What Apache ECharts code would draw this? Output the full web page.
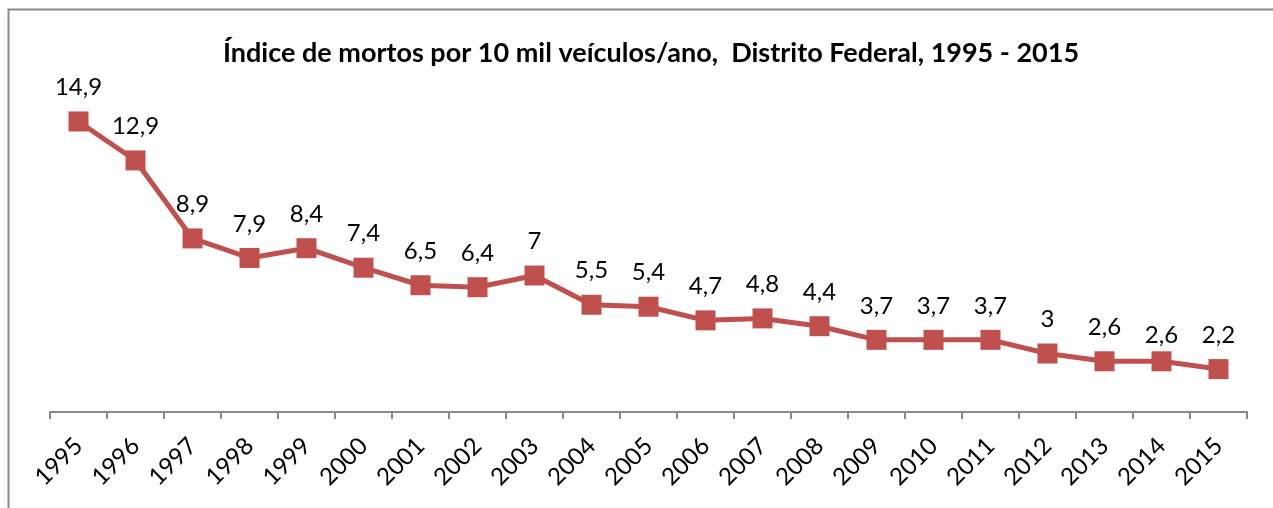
<!DOCTYPE html>
<html>
<head>
<meta charset="utf-8">
<script src="https://cdn.jsdelivr.net/npm/echarts@6/dist/echarts.min.js"></script>
<style>
  html, body { margin: 0; padding: 0; background: #fff; }
  #chart { width: 1273px; height: 508px; }
</style>
</head>
<body>
<div id="chart"></div>
<script>
const years = ['1995', '1996', '1997', '1998', '1999', '2000', '2001', '2002', '2003', '2004', '2005',
  '2006', '2007', '2008', '2009', '2010', '2011', '2012', '2013', '2014', '2015'];
const deathIndex = [14.9, 12.9, 8.9, 7.9, 8.4, 7.4, 6.5, 6.4, 7, 5.5, 5.4,
  4.7, 4.8, 4.4, 3.7, 3.7, 3.7, 3, 2.6, 2.6, 2.2];

const chartTitle = 'Índice de mortos por 10 mil veículos/ano,  Distrito Federal, 1995 - 2015';

// the 2014 label sits a bit lower in the original
const labelTweaks = {
  19: { distance: 4 }
};

const fmt = v => String(v).replace('.', ',');

let myChart = echarts.init(document.getElementById('chart'));

let option = {
  animation: false,
  textStyle: { fontFamily: 'Lato' },
  title: {
    text: chartTitle,
    left: 218,
    top: 35,
    textStyle: {
      fontFamily: 'Lato',
      fontSize: 27,
      fontWeight: 'bold',
      color: '#000'
    }
  },
  graphic: [
    {
      type: 'rect',
      shape: { x: 8.5, y: 9.5, width: 1300, height: 600 },
      style: { fill: 'none', stroke: '#8a8a8a', lineWidth: 2 },
      silent: true
    }
  ],
  grid: { left: 50, right: 26, top: 100, bottom: 96 },
  xAxis: {
    type: 'category',
    data: years,
    boundaryGap: true,
    axisLine: { lineStyle: { color: '#888', width: 2 } },
    axisTick: { show: true, interval: 0, length: 7, lineStyle: { color: '#888', width: 2 } },
    axisLabel: {
      interval: 0,
      rotate: 45,
      margin: 30,
      fontSize: 24,
      color: '#000',
      fontFamily: 'Lato'
    }
  },
  yAxis: {
    type: 'value',
    min: 0,
    max: 16,
    show: false,
    splitLine: { show: false }
  },
  series: [
    {
      type: 'line',
      data: deathIndex.map((v, i) => labelTweaks[i] ? { value: v, label: labelTweaks[i] } : v),
      symbol: 'rect',
      symbolSize: 20,
      lineStyle: { color: '#C0504D', width: 5 },
      itemStyle: { color: '#C0504D' },
      label: {
        show: true,
        position: 'top',
        distance: 12,
        fontSize: 24,
        color: '#000',
        fontFamily: 'Lato',
        formatter: p => fmt(p.value)
      }
    }
  ]
};

myChart.setOption(option);
</script>
</body>
</html>
